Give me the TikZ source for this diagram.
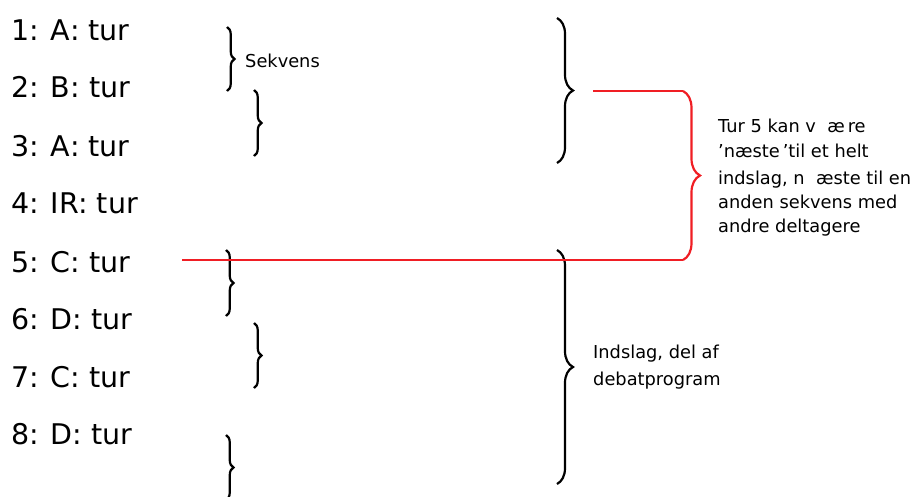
\documentclass[tikz,border=0pt]{standalone}
\usepackage{fontspec}
\setmainfont{DejaVu Sans}
\usetikzlibrary{decorations.pathreplacing}
\definecolor{lred}{RGB}{240,30,36}
\begin{document}
\begin{tikzpicture}[x=1pt,y=-1pt,
  turn/.style={anchor=base west, inner sep=0pt, font=\fontsize{28.5}{34}\selectfont},
  note/.style={anchor=base west, inner sep=0pt, font=\fontsize{17.8}{25}\selectfont},
  bracesmall/.style={line width=2.2pt, decorate, decoration={brace, amplitude=7.5pt}},
  bracebig/.style={line width=2.2pt, decorate, decoration={brace, amplitude=16pt}},
  redline/.style={draw=lred, line width=2.2pt}]
\useasboundingbox (0,0) rectangle (924,496);
\clip (0,0) rectangle (924,496);
% turns
\node[turn] (t1) at (11,40) {1: A: tur};
\node[turn] (t2) at (11,97) {2: B: tur};
\node[turn] (t3) at (11,156) {3: A: tur};
\node[turn] (t4) at (11,213) {4: IR: tur};
\node[turn] (t5) at (11,272) {5: C: tur};
\node[turn] (t6) at (11,329) {6: D: tur};
\node[turn] (t7) at (11,387) {7: C: tur};
\node[turn] (t8) at (11,444) {8: D: tur};
% labels
\node[note] (sek) at (245,67) {Sekvens};
\node[note] (r1) at (718,132) {Tur 5 kan v\ \ æ\,re};
\node[note] (r2) at (718,157) {’næste\,’til et helt};
\node[note] (r3) at (718,184) {indslag, n\ \ æste til en};
\node[note] (r4) at (718,208) {anden sekvens med};
\node[note] (r5) at (718,232) {andre deltagere};
\node[note] (i1) at (593,358) {Indslag, del af};
\node[note] (i2) at (593,385) {debatprogram};
% black braces
\draw[bracesmall] (227,27) -- (227,91);
\draw[bracesmall] (254,90) -- (254,156);
\draw[bracebig] (557,18) -- (557,163);
\draw[bracesmall] (226,250) -- (226,316);
\draw[bracesmall] (254,323) -- (254,388);
\draw[bracesmall] (226,435) -- (226,500);
\draw[bracebig] (557,250) -- (557,484);
% red connector
\coordinate (rs) at (182,260);
\coordinate (rb) at (683,260);
\coordinate (rt) at (683,91);
\coordinate (rts) at (593,91);
\draw[redline] (rs) -- (rb);
\draw[redline] (rts) -- (rt);
\draw[redline, decorate, decoration={brace, amplitude=17pt}] (rt) -- (rb);
\end{tikzpicture}
\end{document}
